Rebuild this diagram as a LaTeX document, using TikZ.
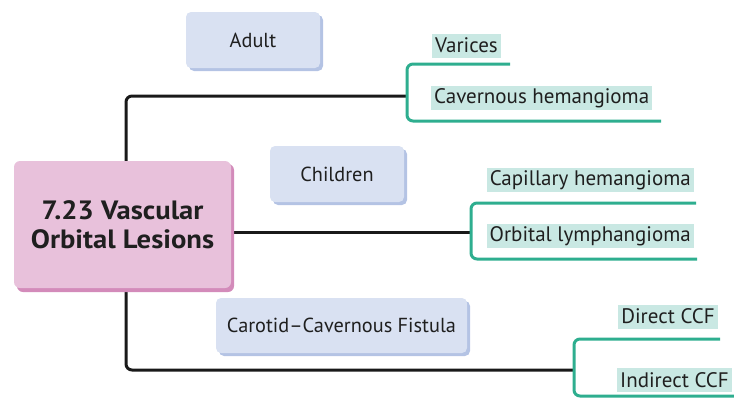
\documentclass[tikz,border=0pt]{standalone}
\usepackage{fontspec}
\setmainfont{PT Sans}
\newfontfamily\titlefont[FakeStretch=1.08]{PT Sans}
\begin{document}
\begin{tikzpicture}[x=1pt,y=-1pt,
  catbox/.style={rounded corners=5pt, fill=catfill, minimum height=56pt, inner sep=0pt, font=\fontsize{20.3}{22}\selectfont, text=black!88},
  leaf/.style={fill=leaffill, inner xsep=3pt, inner ysep=0pt, font=\fontsize{21}{22}\selectfont, text=black!88, minimum height=24pt},
  blk/.style={line width=3pt, black!90, rounded corners=6pt},
  grn/.style={line width=3pt, leafline, rounded corners=6pt}]
\definecolor{catfill}{HTML}{D9E1F2}
\definecolor{catshadow}{HTML}{B4C3E4}
\definecolor{mainfill}{HTML}{E8C1DB}
\definecolor{mainshadow}{HTML}{D38BBA}
\definecolor{leaffill}{HTML}{C9E8E3}
\definecolor{leafline}{HTML}{2EAE8F}
\useasboundingbox (0,0) rectangle (734,397);
\begin{scope}
\clip (0,0) rectangle (734,397);
% coordinates
\coordinate (t1) at (126,161);
\coordinate (t2) at (407,96);
\coordinate (m1) at (231,232);
\coordinate (m2) at (471,232);
\coordinate (b1) at (126,288);
\coordinate (b2) at (574,370);
\draw[blk] (t1) |- (t2);
\draw[blk] (m1) -- (m2);
\draw[blk] (b1) |- (b2);
% green brackets
\coordinate (g1a) at (510,64);
\coordinate (g1b) at (661,121);
\draw[grn] (g1a) -| (407,92) (407,92) -- (407,100) |- (g1b);
\coordinate (g2a) at (696,203);
\coordinate (g2b) at (697,259);
\draw[grn] (g2a) -| (471,228) (471,228) -- (471,236) |- (g2b);
\coordinate (g3a) at (720,339);
\coordinate (g3b) at (734,396);
\draw[grn] (g3a) -| (574,366) (574,366) -- (574,374) |- (g3b);
\end{scope}
% main box
\fill[mainshadow, rounded corners=6pt] (17,164) rectangle (234,292);
\node[fill=mainfill, rounded corners=6pt, minimum width=217pt, minimum height=127pt, inner sep=0pt, align=center,
  font=\titlefont\bfseries\fontsize{26.5}{29}\selectfont, text=black!88] (main) at (122.5,224.5) {7.23 Vascular\\Orbital Lesions};
% category boxes
\fill[catshadow, rounded corners=5pt] (189,15) rectangle (323,71);
\node[catbox, minimum width=134pt] (adult) at (253,40) {Adult};
\fill[catshadow, rounded corners=5pt] (273,149) rectangle (407,205);
\node[catbox, minimum width=134pt] (children) at (337,174) {Children};
\fill[catshadow, rounded corners=5pt] (219,301) rectangle (470,356);
\node[catbox, minimum width=251pt, minimum height=55pt] (ccf) at (341.5,325.5) {Carotid–Cavernous Fistula};
% leaves
\node[leaf, anchor=west] (varices) at (432,45.5) {Varices};
\node[leaf, anchor=west] (cav) at (431,98) {Cavernous hemangioma};
\node[leaf, anchor=east] (cap) at (694,180) {Capillary hemangioma};
\node[leaf, anchor=east] (orb) at (694,236) {Orbital lymphangioma};
\node[leaf, anchor=east] (dccf) at (718,316.5) {Direct CCF};
\node[leaf, anchor=east] (iccf) at (732,380) {Indirect CCF};
\end{tikzpicture}
\end{document}
